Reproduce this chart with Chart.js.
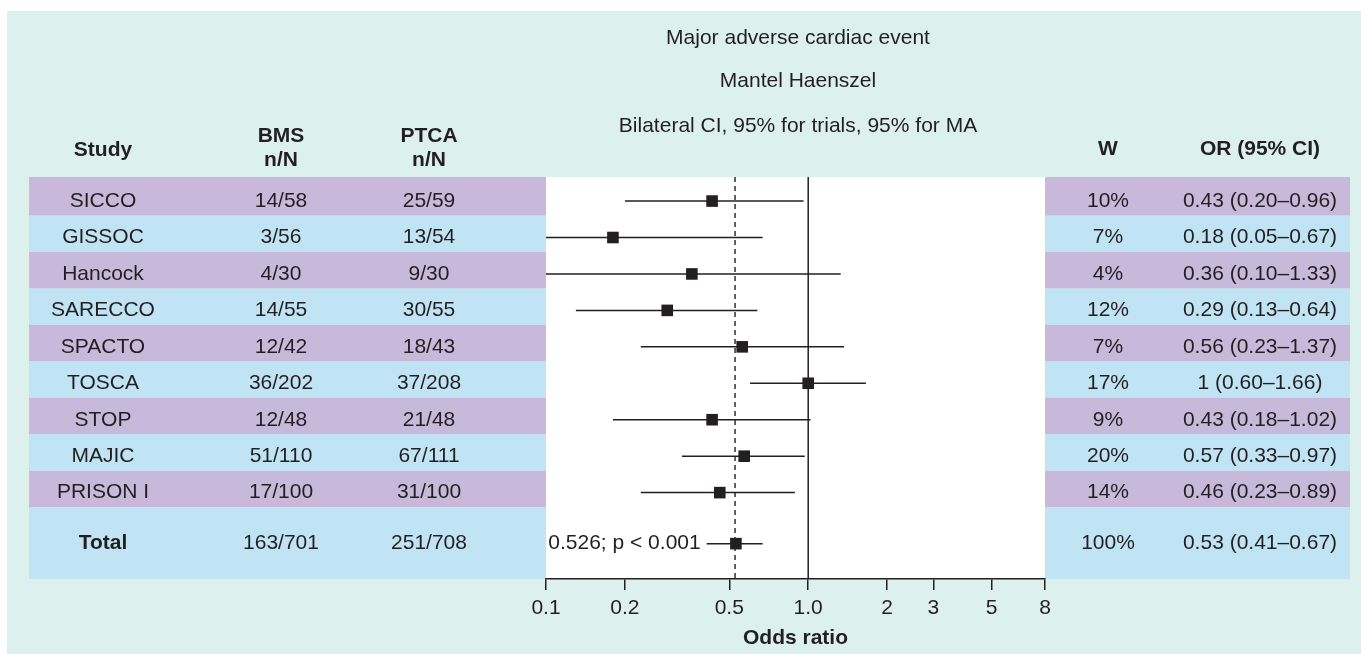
<!DOCTYPE html>
<html><head><meta charset="utf-8">
<script src="https://cdn.jsdelivr.net/npm/chart.js@4.4.0/dist/chart.umd.min.js"></script>
<style>html,body{margin:0;padding:0;background:#fff;} canvas{display:block;}</style>
</head><body>
<canvas id="c" width="1361" height="654"></canvas>
<script>
// ---- data ----
const studies = ['SICCO','GISSOC','Hancock','SARECCO','SPACTO','TOSCA','STOP','MAJIC','PRISON I'];
const bmsEvents = [14,3,4,14,12,36,12,51,17];
const bmsTotals = [58,56,30,55,42,202,48,110,100];
const ptcaEvents = [25,13,9,30,18,37,21,67,31];
const ptcaTotals = [59,54,30,55,43,208,48,111,100];
const weights = [10,7,4,12,7,17,9,20,14];
const orValues = [0.43,0.18,0.36,0.29,0.56,1,0.43,0.57,0.46];
const ciLow = [0.20,0.05,0.10,0.13,0.23,0.60,0.18,0.33,0.23];
const ciHigh = [0.96,0.67,1.33,0.64,1.37,1.66,1.02,0.97,0.89];
const orLabels = ['0.43','0.18','0.36','0.29','0.56','1','0.43','0.57','0.46'];
const totalBms = '163/701';
const totalPtca = '251/708';
const totalWeight = 100;
const totalOR = 0.53, totalLow = 0.41, totalHigh = 0.67;
const pooledOR = 0.526;
const totalNote = '0.526; p < 0.001';
const tickValues = [0.1,0.2,0.5,1,2,3,5,8];
const tickLabels = ['0.1','0.2','0.5','1.0','2','3','5','8'];
const titleLines = ['Major adverse cardiac event','Mantel Haenszel','Bilateral CI, 95% for trials, 95% for MA'];

// ---- style ----
const FONT = '"Liberation Sans", Arial, Helvetica, sans-serif';
const INK = '#231f20';
const PURPLE = '#c8b8da', BLUE = '#c1e4f5', TEAL = '#dcf0ee';
const yMin = -0.06, yMax = 10.97;
const rowY = studies.map((_, i) => i + 0.6);
const totalY = 10;
const fmt = v => v.toFixed(2);

const squares = orValues.map((v, i) => ({x: v, y: rowY[i]})).concat([{x: totalOR, y: totalY}]);
const ciSets = orValues.map((_, i) => ({
  type: 'line', data: [{x: ciLow[i], y: rowY[i]}, {x: ciHigh[i], y: rowY[i]}],
  showLine: true, pointRadius: 0, borderColor: INK, borderWidth: 1.5, order: 1
})).concat([{
  type: 'line', data: [{x: totalLow, y: totalY}, {x: totalHigh, y: totalY}],
  showLine: true, pointRadius: 0, borderColor: INK, borderWidth: 1.5, order: 1
}]);

const tablePlugin = {
  id: 'table',
  beforeDraw(chart) {
    const {ctx, chartArea: a, scales: {y}} = chart;
    ctx.save();
    ctx.fillStyle = '#fff'; ctx.fillRect(0, 0, chart.width, chart.height);
    ctx.fillStyle = TEAL; ctx.fillRect(7, 11, chart.width - 7, chart.height - 11);
    const bounds = [yMin, 1, 2, 3, 4, 5, 6, 7, 8, 9, yMax];
    for (let i = 0; i < 10; i++) {
      const t = y.getPixelForValue(bounds[i]), b = y.getPixelForValue(bounds[i + 1]);
      ctx.fillStyle = i % 2 ? BLUE : PURPLE;
      ctx.fillRect(29, t, a.left - 29, b - t);
      ctx.fillRect(a.right, t, 1350 - a.right, b - t);
    }
    ctx.fillStyle = '#fff';
    ctx.fillRect(a.left, a.top, a.right - a.left, a.bottom - a.top);
    ctx.restore();
  },
  afterDraw(chart) {
    const {ctx, scales: {x, y}} = chart;
    ctx.save();
    ctx.fillStyle = INK;
    ctx.textAlign = 'center';
    ctx.textBaseline = 'middle';
    const reg = `21px ${FONT}`, bold = `bold 21px ${FONT}`;
    // titles
    ctx.font = reg;
    const ty = [38, 81, 126];
    titleLines.forEach((t, i) => ctx.fillText(t, 798, ty[i]));
    // headers
    ctx.font = bold;
    ctx.fillText('Study', 103, 150);
    ctx.fillText('BMS', 281, 136);
    ctx.fillText('n/N', 281, 160);
    ctx.fillText('PTCA', 429, 136);
    ctx.fillText('n/N', 429, 160);
    ctx.fillText('W', 1108, 149);
    ctx.fillText('OR (95% CI)', 1260, 149);
    // rows
    ctx.font = reg;
    studies.forEach((s, i) => {
      const py = y.getPixelForValue(rowY[i]);
      ctx.fillText(s, 103, py);
      ctx.fillText(bmsEvents[i] + '/' + bmsTotals[i], 281, py);
      ctx.fillText(ptcaEvents[i] + '/' + ptcaTotals[i], 429, py);
      ctx.fillText(weights[i] + '%', 1108, py);
      ctx.fillText(orLabels[i] + ' (' + fmt(ciLow[i]) + '\u2013' + fmt(ciHigh[i]) + ')', 1260, py);
    });
    const ty2 = y.getPixelForValue(totalY);
    ctx.font = bold;
    ctx.fillText('Total', 103, ty2);
    ctx.font = reg;
    ctx.fillText(totalBms, 281, ty2);
    ctx.fillText(totalPtca, 429, ty2);
    ctx.fillText(totalWeight + '%', 1108, ty2);
    ctx.fillText(fmt(totalOR) + ' (' + fmt(totalLow) + '\u2013' + fmt(totalHigh) + ')', 1260, ty2);
    ctx.textAlign = 'right';
    ctx.fillText(totalNote, x.getPixelForValue(totalLow) - 6, ty2);
    ctx.restore();
  }
};

new Chart(document.getElementById('c'), {
  type: 'scatter',
  data: {datasets: [
    {type: 'scatter', data: squares, pointStyle: 'rect', pointRadius: 8.2, backgroundColor: INK, borderColor: INK, borderWidth: 0, order: 0},
    ...ciSets,
    {type: 'line', data: [{x: pooledOR, y: yMin}, {x: pooledOR, y: yMax}], showLine: true, borderDash: [5, 4], borderWidth: 1.4, pointRadius: 0, borderColor: INK, order: 2},
    {type: 'line', data: [{x: 1, y: yMin}, {x: 1, y: yMax}], showLine: true, borderWidth: 1.5, pointRadius: 0, borderColor: INK, order: 3}
  ]},
  options: {
    responsive: false, animation: false, events: [],
    layout: {padding: {left: 546, right: 316, top: 177, bottom: 0}},
    plugins: {legend: {display: false}, tooltip: {enabled: false}, title: {display: false}},
    scales: {
      x: {
        type: 'logarithmic', position: 'bottom', min: 0.1, max: 8,
        afterBuildTicks: s => { s.ticks = tickValues.map(v => ({value: v})); },
        afterFit: s => { s.height = 75; s.paddingLeft = 0; s.paddingRight = 0; },
        ticks: {autoSkip: false, maxRotation: 0, minRotation: 0, color: INK, font: {family: FONT, size: 21}, padding: 6,
          callback: (v, i) => tickLabels[i]},
        grid: {drawOnChartArea: false, drawTicks: true, tickLength: 11, color: INK, lineWidth: 1.5},
        border: {display: true, color: INK, width: 1.5},
        title: {display: true, text: 'Odds ratio', color: INK, font: {family: FONT, size: 21, weight: 'bold'}, padding: {top: 0, bottom: 3}}
      },
      y: {type: 'linear', display: false, reverse: true, min: yMin, max: yMax}
    }
  },
  plugins: [tablePlugin]
});
</script>
</body></html>
